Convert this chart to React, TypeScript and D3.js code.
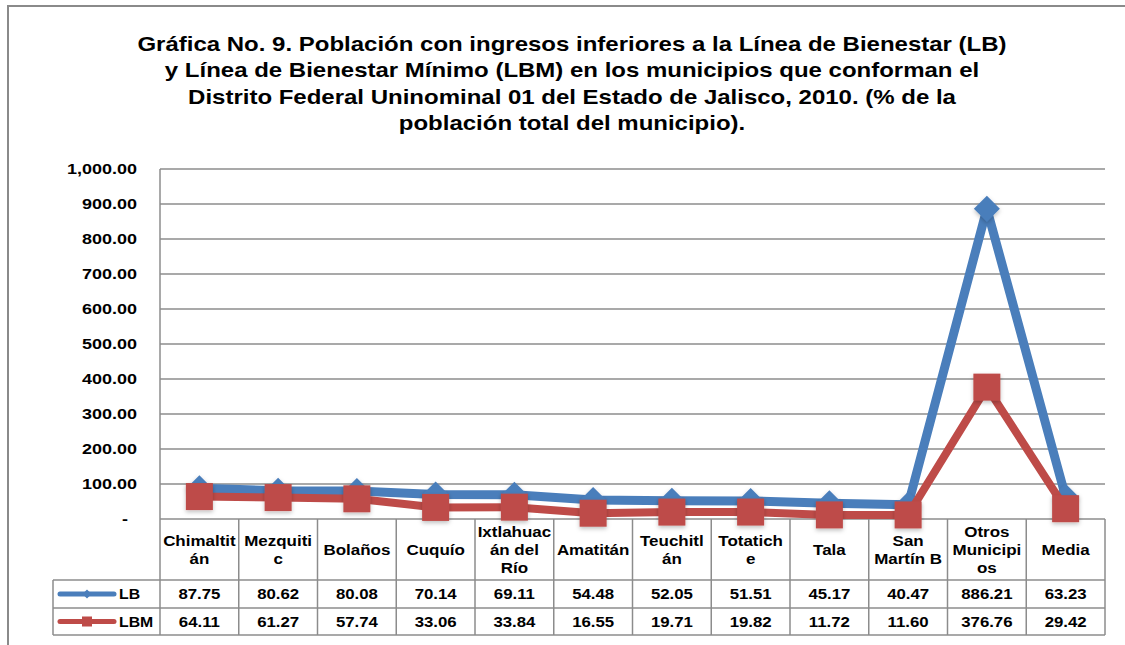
import React from 'react';
import * as d3 from 'd3';

const titleLines = [
  'Gráfica No. 9. Población con ingresos inferiores a la Línea de Bienestar (LB)',
  'y Línea de Bienestar Mínimo (LBM) en los municipios que conforman el',
  'Distrito Federal Uninominal 01 del Estado de Jalisco, 2010. (% de la',
  'población total del municipio).',
];

const categories = [
  'Chimaltitán', 'Mezquitic', 'Bolaños', 'Cuquío', 'Ixtlahuacán del Río', 'Amatitán',
  'Teuchitlán', 'Totatiche', 'Tala', 'San Martín B', 'Otros Municipios', 'Media',
];
const headerLines = [
  ['Chimaltit', 'án'], ['Mezquiti', 'c'], ['Bolaños'], ['Cuquío'], ['Ixtlahuac', 'án del', 'Río'],
  ['Amatitán'], ['Teuchitl', 'án'], ['Totatich', 'e'], ['Tala'], ['San', 'Martín B'],
  ['Otros', 'Municipi', 'os'], ['Media'],
];
const lbValues = [87.75, 80.62, 80.08, 70.14, 69.11, 54.48, 52.05, 51.51, 45.17, 40.47, 886.21, 63.23];
const lbmValues = [64.11, 61.27, 57.74, 33.06, 33.84, 16.55, 19.71, 19.82, 11.72, 11.6, 376.76, 29.42];
const yTicks = [0, 100, 200, 300, 400, 500, 600, 700, 800, 900, 1000];

const W = 1125;
const H = 645;
const FONT = "'Liberation Sans', Arial, sans-serif";
const LB_COLOR = '#4a7ebb';
const LBM_COLOR = '#be4b48';
const GRID = '#8c8c8c';

function T(props: {
  x: number;
  y: number;
  size: number;
  sx?: number;
  anchor?: 'start' | 'middle' | 'end';
  children: React.ReactNode;
}) {
  return (
    <text
      transform={`translate(${props.x},${props.y}) scale(${props.sx ?? 1.2},1)`}
      dy="0.35em"
      textAnchor={props.anchor || 'middle'}
      fontWeight="bold"
      fontSize={props.size}
      fill="#000"
    >
      {props.children}
    </text>
  );
}

export default function App() {
  const x = d3.scaleBand<string>().domain(categories).range([160, 1105]).padding(0);
  const y = d3.scaleLinear().domain([0, 1000]).range([519, 169]);
  const cx = (c: string) => (x(c) as number) + x.bandwidth() / 2;
  const fmt = d3.format(',.2f');

  const line = d3
    .line<number>()
    .x((_, i) => cx(categories[i]))
    .y((d) => y(d));

  const headerTop = y(0);
  const headerBottom = 580;
  const row1Bottom = 608;
  const row2Bottom = 635;
  const legendLeft = 53;
  const plotLeft = 160;
  const plotRight = 1105;

  const diamond = (px: number, py: number, r: number) =>
    `M${px},${py - r}L${px + r},${py}L${px},${py + r}L${px - r},${py}Z`;

  return (
    <svg
      width={W}
      height={H}
      style={{ position: 'absolute', left: 0, top: 0, background: '#fff' }}
      fontFamily={FONT}
    >
      <defs>
        <filter id="shadow" x="-50%" y="-50%" width="200%" height="200%">
          <feDropShadow dx="0" dy="2" stdDeviation="2" floodColor="#000" floodOpacity="0.25" />
        </filter>
      </defs>
      <rect x={0} y={0} width={W} height={H} fill="#fff" />
      <rect x={8} y={6} width={1140} height={700} fill="none" stroke="#8a8a8a" strokeWidth={2} />

      {titleLines.map((t, i) => (
        <T key={i} x={572} y={43.5 + i * 26.5} size={20}>
          {t}
        </T>
      ))}

      {/* gridlines */}
      {yTicks.slice(1).map((t) => (
        <line key={t} x1={plotLeft} x2={plotRight} y1={y(t)} y2={y(t)} stroke={GRID} strokeWidth={1.5} />
      ))}
      {/* y labels */}
      {yTicks.map((t) => (
        <T key={t} x={t === 0 ? 128 : 137} y={y(t)} size={15} anchor="end">
          {t === 0 ? '-' : fmt(t)}
        </T>
      ))}

      {/* table */}
      <g stroke={GRID} strokeWidth={1.5} fill="none">
        <line x1={plotLeft} x2={plotLeft} y1={y(1000)} y2={row2Bottom} />
        <line x1={plotLeft} x2={plotRight} y1={headerTop} y2={headerTop} />
        <line x1={legendLeft} x2={plotRight} y1={headerBottom} y2={headerBottom} />
        <line x1={legendLeft} x2={plotRight} y1={row1Bottom} y2={row1Bottom} />
        <line x1={legendLeft} x2={plotRight} y1={row2Bottom} y2={row2Bottom} />
        <line x1={legendLeft} x2={legendLeft} y1={headerBottom} y2={row2Bottom} />
        {categories.map((c) => (
          <line
            key={c}
            x1={(x(c) as number) + x.bandwidth()}
            x2={(x(c) as number) + x.bandwidth()}
            y1={headerTop}
            y2={row2Bottom}
          />
        ))}
      </g>

      {categories.map((c, i) => {
        const lines = headerLines[i];
        const mid = 550;
        const lh = 18.3;
        return (
          <g key={c}>
            {lines.map((l, j) => (
              <T key={j} x={cx(c)} y={mid + (j - (lines.length - 1) / 2) * lh} size={14.5} sx={1.17}>
                {l}
              </T>
            ))}
            <T x={cx(c)} y={(headerBottom + row1Bottom) / 2} size={15} sx={1.12}>
              {lbValues[i].toFixed(2)}
            </T>
            <T x={cx(c)} y={(row1Bottom + row2Bottom) / 2} size={15} sx={1.12}>
              {lbmValues[i].toFixed(2)}
            </T>
          </g>
        );
      })}

      {/* legend keys */}
      {(() => {
        const y1 = (headerBottom + row1Bottom) / 2;
        const y2 = (row1Bottom + row2Bottom) / 2;
        return (
          <g>
            <line x1={60} x2={114} y1={y1} y2={y1} stroke={LB_COLOR} strokeWidth={5} strokeLinecap="round" />
            <path d={diamond(87, y1, 4.5)} fill={LB_COLOR} />
            <T x={119} y={y1} size={15.5} sx={1.02} anchor="start">LB</T>
            <line x1={60} x2={114} y1={y2} y2={y2} stroke={LBM_COLOR} strokeWidth={5} strokeLinecap="round" />
            <rect x={82} y={y2 - 5} width={10} height={10} fill={LBM_COLOR} />
            <T x={119} y={y2} size={15.5} sx={1.02} anchor="start">LBM</T>
          </g>
        );
      })()}

      {/* series */}
      <path d={line(lbValues) as string} fill="none" stroke={LB_COLOR} strokeWidth={9} strokeLinejoin="round" />
      {lbValues.map((v, i) => (
        <path key={i} d={diamond(cx(categories[i]), y(v), 13)} fill={LB_COLOR} filter="url(#shadow)" />
      ))}
      <path d={line(lbmValues) as string} fill="none" stroke={LBM_COLOR} strokeWidth={8} strokeLinejoin="round" />
      {lbmValues.map((v, i) => (
        <rect
          key={i}
          x={cx(categories[i]) - 13.5}
          y={y(v) - 13.5}
          width={27}
          height={27}
          fill={LBM_COLOR}
          filter="url(#shadow)"
        />
      ))}
    </svg>
  );
}
